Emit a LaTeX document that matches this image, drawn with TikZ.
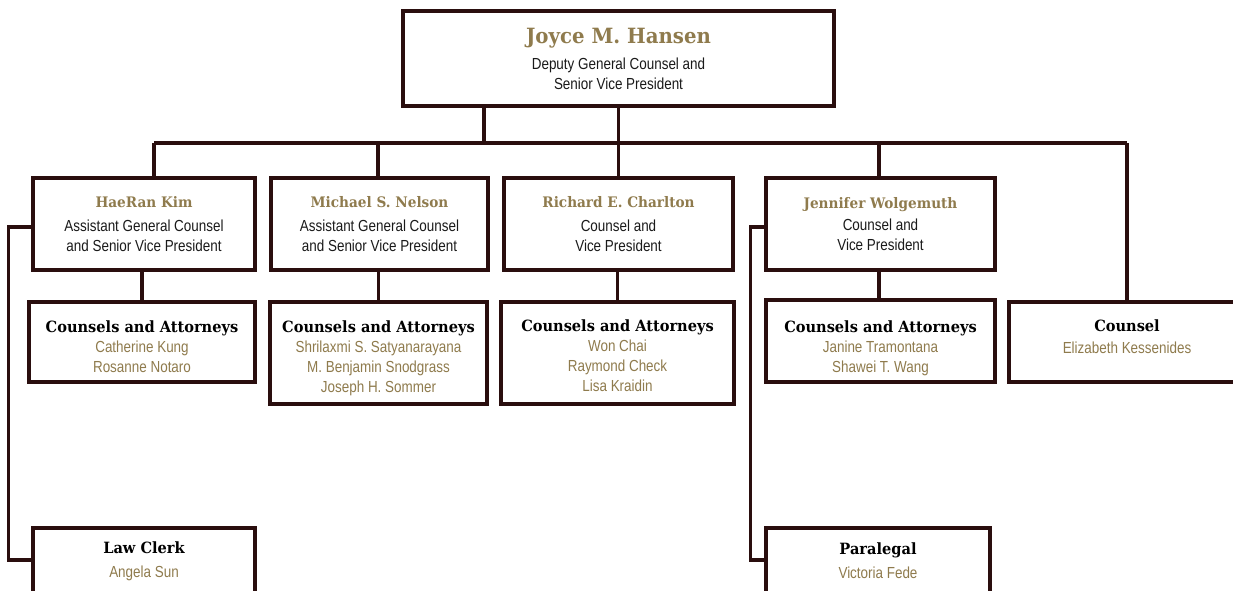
\documentclass[tikz,border=0pt]{standalone}
\usepackage{fontspec}
\usepackage{xcolor}
\usepackage{tikz}
\usetikzlibrary{positioning,calc}
\setmainfont[FakeStretch=0.84]{Liberation Sans}
\newfontfamily\slab[FakeStretch=0.94]{DejaVu Serif}
\definecolor{ln}{HTML}{2A0E0E}
\definecolor{nm}{HTML}{8F7B4D}
\definecolor{tx}{HTML}{1A1A1A}
\newcommand{\Nm}[1]{{\slab\bfseries\color{nm}\fontsize{14.5}{20}\selectfont#1}}
\newcommand{\Hd}[1]{{\slab\bfseries\color{black}\fontsize{15.5}{20}\selectfont#1}}
\newcommand{\Pp}[1]{{\color{nm}#1}}
\newcommand{\Up}[1]{\rule{0pt}{#1pt}}
\newcommand{\Dn}[1]{\rule[-#1pt]{0pt}{#1pt}}

\begin{document}
\begin{tikzpicture}[x=1pt,y=-1pt,
    box/.style={draw=ln, line width=3.1pt, fill=white, align=center, inner sep=0pt,
      text=tx, font=\fontsize{16}{20}\selectfont},
    wire/.style={draw=ln, line width=3.1pt}]
  \useasboundingbox (0,0) rectangle (1233,591);
  \clip (0,0) rectangle (1233,591);
  \coordinate (bus) at (0,143);

  % top
  \node[box, minimum width=431, minimum height=95] (dgc) at (618.5,58.5)
    {{\slab\bfseries\color{nm}\fontsize{21}{20}\selectfont Joyce M. Hansen}\\[6pt]
     Deputy General Counsel and\\ Senior Vice President};

  % second row
  \node[box, minimum width=222, minimum height=92] (hk) at (144,224)
    {\Nm{HaeRan Kim}\\[4pt] Assistant General Counsel\\ and Senior Vice President};
  \node[box, minimum width=217, minimum height=92] (msn) at (379.5,224)
    {\Nm{Michael S. Nelson}\\[4pt] Assistant General Counsel\\ and Senior Vice President};
  \node[box, minimum width=229, minimum height=92] (rec) at (618.5,224)
    {\Nm{Richard E. Charlton}\\[4pt] Counsel and\\ Vice President};
  \node[box, minimum width=229, minimum height=92] (jw) at (880.5,224)
    {\Nm{Jennifer Wolgemuth}\\[2pt] Counsel and\\ Vice President};

  % third row
  \node[box, minimum width=226, minimum height=80] (hkca) at (142,342)
    {\Up{22}\Hd{Counsels and Attorneys}\\ \Pp{Catherine Kung}\\ \Pp{Rosanne Notaro}};
  \node[box, minimum width=217, minimum height=102] (msnca) at (378.5,353)
    {\Up{22}\Hd{Counsels and Attorneys}\\ \Pp{Shrilaxmi S. Satyanarayana}\\
     \Pp{M. Benjamin Snodgrass}\\ \Pp{Joseph H. Sommer}};
  \node[box, minimum width=233, minimum height=102] (recca) at (617.5,353)
    {\Up{18}\Hd{Counsels and Attorneys}\\ \Pp{Won Chai}\\ \Pp{Raymond Check}\\ \Pp{Lisa Kraidin}};
  \node[box, minimum width=229, minimum height=82] (jwca) at (880.5,341)
    {\Up{26}\Hd{Counsels and Attorneys}\\ \Pp{Janine Tramontana}\\ \Pp{Shawei T. Wang}};
  \node[box, minimum width=236, minimum height=80] (cns) at (1127,342)
    {\Hd{Counsel}\\[2pt] \Pp{Elizabeth Kessenides}\Dn{10}};

  % bottom
  \node[box, minimum width=222, minimum height=66] (lc) at (144,561)
    {\Hd{Law Clerk}\\[4pt] \Pp{Angela Sun}};
  \node[box, minimum width=224, minimum height=66] (pl) at (878,561)
    {\Hd{Paralegal}\\[4pt] \Pp{Victoria Fede}};

  % connectors
  \draw[wire] ([xshift=10]hk.north |- bus) -- (cns.north |- bus);
  \draw[wire] (dgc.south) -- (rec.north);
  \draw[wire] ([xshift=-134.5]dgc.south) -- ([xshift=-134.5]dgc.south |- bus);
  \draw[wire] ([xshift=10]hk.north) -- ([xshift=10]hk.north |- bus);
  \draw[wire] ([xshift=-1.5]msn.north) -- ([xshift=-1.5]msn.north |- bus);
  \draw[wire] ([xshift=-1.5]jw.north) -- ([xshift=-1.5]jw.north |- bus);
  \draw[wire] (cns.north) -- (cns.north |- bus);
  \draw[wire] (hkca.north) -- (hkca.north |- hk.south);
  \draw[wire] (msnca.north) -- (msnca.north |- msn.south);
  \draw[wire] (recca.north) -- (recca.north |- rec.south);
  \draw[wire] ([xshift=-1.5]jwca.north) -- ([xshift=-1.5]jwca.north |- jw.south);
  \draw[wire] ([yshift=-3]hk.west) -- ++(-23,0) |- ([yshift=1]lc.west);
  \draw[wire] ([yshift=-3]jw.west) -- ++(-14,0) |- ([yshift=1]pl.west);
\end{tikzpicture}
\end{document}
